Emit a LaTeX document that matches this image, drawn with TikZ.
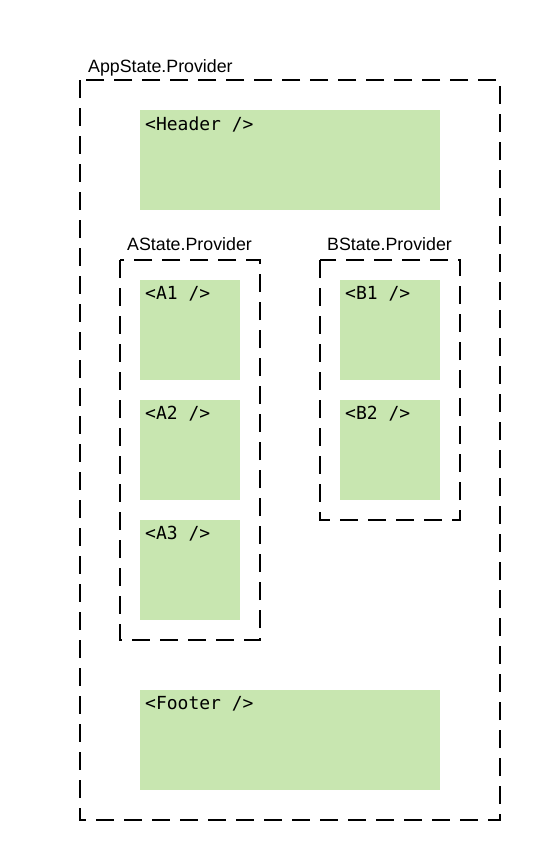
\documentclass[tikz,border=0pt]{standalone}
\usepackage{fontspec}
\setmainfont{Liberation Sans}
\setmonofont{DejaVu Sans Mono}
\usetikzlibrary{positioning}
\definecolor{compgreen}{HTML}{C8E6B0}

\begin{document}
\begin{tikzpicture}[
    x=1pt, y=-1pt,
    provider/.style={draw=black, line width=2pt, dash pattern=on 18pt off 10pt},
    provlabel/.style={anchor=west, inner sep=0pt, font=\fontsize{17.8}{20}\selectfont},
    compbox/.style={fill=compgreen, draw=none},
    comptext/.style={anchor=west, inner sep=0pt, font=\ttfamily\fontsize{18}{20}\selectfont},
]
\useasboundingbox (0,0) rectangle (550,860);

% Providers
\draw[provider] (80,80) rectangle (500,820);
\draw[provider] (120,260) rectangle (260,640);
\draw[provider] (320,260) rectangle (460,520);
\node[provlabel] (app) at (88,68) {AppState.Provider};
\node[provlabel] (astate) at (127,244) {AState.Provider};
\node[provlabel] (bstate) at (327,244) {BState.Provider};

% Components
\fill[compbox] (140,110) rectangle (440,210);
\fill[compbox] (140,280) rectangle (240,380);
\fill[compbox] (140,400) rectangle (240,500);
\fill[compbox] (140,520) rectangle (240,620);
\fill[compbox] (340,280) rectangle (440,380);
\fill[compbox] (340,400) rectangle (440,500);
\fill[compbox] (140,690) rectangle (440,790);

\node[comptext] (header) at (145,124) {<Header />};
\node[comptext] (a1) at (145,294) {<A1 />};
\node[comptext] (a2) at (145,414) {<A2 />};
\node[comptext] (a3) at (145,534) {<A3 />};
\node[comptext] (b1) at (345,294) {<B1 />};
\node[comptext] (b2) at (345,414) {<B2 />};
\node[comptext] (footer) at (145,704) {<Footer />};

\end{tikzpicture}
\end{document}
